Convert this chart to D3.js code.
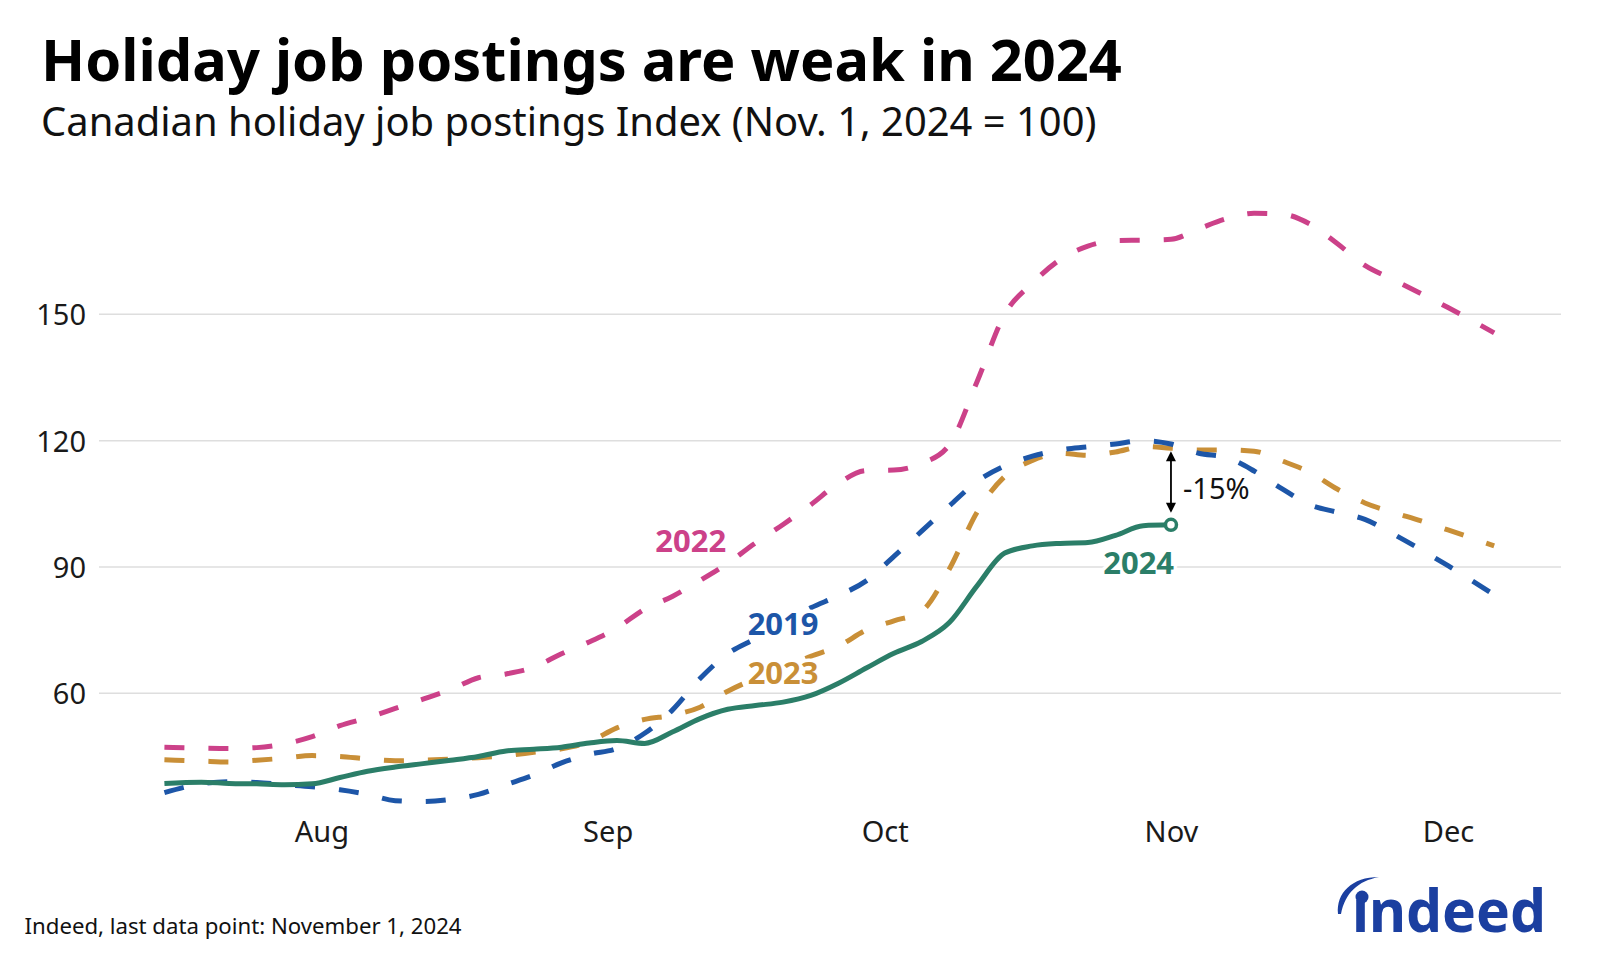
<!DOCTYPE html>
<html>
<head>
<meta charset="utf-8">
<script src="https://cdn.jsdelivr.net/npm/d3@7"></script>
<style>
  html, body { margin: 0; padding: 0; background: #fff; }
  svg { display: block; }
  text { font-family: "Noto Sans", "Open Sans", sans-serif; }
</style>
</head>
<body>
<svg id="chart" width="1600" height="960"></svg>
<script>
// ---------------- data ----------------
const dates = ["07-15","07-19","07-22","07-25","07-28","07-31","08-03","08-06","08-09","08-12",
  "08-15","08-18","08-21","08-24","08-27","08-30","09-02","09-05","09-08","09-11",
  "09-14","09-17","09-20","09-23","09-26","09-29","10-02","10-05","10-08","10-11",
  "10-14","10-17","10-20","10-23","10-26","10-29","11-01","11-04","11-07","11-10",
  "11-13","11-16","11-19","11-22","11-25","11-28","12-01","12-06"];

const values2022 = [47.2,47.0,46.9,47.1,48.0,49.7,52.3,54.2,56.4,58.6,
  60.9,63.7,64.6,66.2,69.4,72.2,75.5,80.0,83.0,86.8,
  90.9,95.7,100.1,104.8,109.9,112.9,113.0,114.6,119.0,134.0,
  150.0,157.4,163.0,166.2,167.5,167.6,167.8,170.3,172.7,174.0,
  173.8,171.5,166.8,161.6,158.3,155.0,151.6,145.6];

const values2019 = [36.4,38.5,39.0,38.8,38.3,37.8,37.1,36.0,34.5,34.3,
  34.8,36.0,38.3,40.6,43.5,45.5,46.9,50.5,56.0,63.5,
  69.4,73.0,76.8,80.3,83.2,86.7,92.5,98.5,104.5,110.3,
  114.0,116.3,117.8,118.5,119.2,120.0,119.2,117.0,116.0,112.8,
  108.6,104.8,103.0,101.3,97.9,94.2,90.3,83.4];

const values2023 = [44.2,43.9,43.7,44.1,44.6,45.2,45.0,44.4,44.0,44.1,
  44.4,44.7,45.2,46.0,46.8,48.5,51.8,53.8,54.8,56.7,
  60.5,63.5,66.0,68.8,71.2,75.0,77.2,79.5,89.5,103.0,
  111.5,115.3,117.0,116.5,117.3,118.6,118.2,117.8,117.8,117.5,
  115.2,112.5,108.5,105.2,103.0,101.0,98.8,95.0];

const values2024 = [38.6,38.9,38.6,38.5,38.3,38.5,40.0,41.5,42.5,43.3,
  44.1,45.0,46.3,46.7,47.2,48.2,48.8,48.1,50.8,54.0,
  56.2,57.1,57.9,59.5,62.4,66.0,69.5,72.3,76.8,85.5,
  93.3,95.0,95.6,95.8,97.5,99.8,100.0,
  null,null,null,null,null,null,null,null,null,null,null];

const seriesNames  = ["2022","2023","2019","2024"];
const seriesValues = [values2022, values2023, values2019, values2024];
const seriesColors = ["#cc4189","#c98f37","#1d56a8","#2b7e68"];

const yTickValues = [60, 90, 120, 150];
const xTickDates  = ["08-01","09-01","10-01","11-01","12-01"];

const titleText    = "Holiday job postings are weak in 2024";
const subtitleText = "Canadian holiday job postings Index (Nov. 1, 2024 = 100)";
const sourceText   = "Indeed, last data point: November 1, 2024";
const gapLabel     = "-15%";

// label anchors (date, value) for series annotations
const labelAnchors = [
  { name: "2022", date: "09-10 00", value: 96.2 },
  { name: "2019", date: "09-20 00", value: 76.5 },
  { name: "2023", date: "09-20 00", value: 64.8 },
  { name: "2024", date: "10-28 12", value: 91.0 }
];

// ---------------- chart ----------------
const parse = d3.timeParse("%Y-%m-%d");
const parseH = d3.timeParse("%Y-%m-%d %H");
const toDate = s => parse("2024-" + s);
const toDateH = s => parseH("2024-" + s);

const svg = d3.select("#chart");

const x = d3.scaleTime()
  .domain([toDate("08-01"), toDate("12-01")])
  .range([321.4, 1448]);
const y = d3.scaleLinear()
  .domain([60, 150])
  .range([693.3, 314.3]);

function fitText(sel, target) {
  const base = parseFloat(sel.attr("font-size"));
  const w = sel.node().getComputedTextLength();
  if (w > 0) sel.attr("font-size", (base * target / w).toFixed(2));
}

// title
const title = svg.append("text")
  .attr("x", 41).attr("y", 81)
  .attr("font-size", 56).attr("font-weight", 700).attr("fill", "#000")
  .text(titleText);
fitText(title, 1081);

const subtitle = svg.append("text")
  .attr("x", 41).attr("y", 136)
  .attr("font-size", 40).attr("fill", "#111")
  .text(subtitleText);
fitText(subtitle, 1056);

// gridlines
svg.append("g").selectAll("line")
  .data(yTickValues).join("line")
  .attr("x1", 99).attr("x2", 1561)
  .attr("y1", d => y(d)).attr("y2", d => y(d))
  .attr("stroke", "#dedede").attr("stroke-width", 1.5);

// y axis labels
const yAxis = d3.axisLeft(y).tickValues(yTickValues).tickSize(0).tickPadding(0);
const gy = svg.append("g").attr("transform", "translate(86,0)").call(yAxis);
gy.select(".domain").remove();
gy.selectAll("text")
  .attr("font-family", "'Noto Sans', sans-serif")
  .attr("font-size", 29).attr("fill", "#1a1a1a")
  .attr("dy", "0.36em");

// x axis labels
const xAxis = d3.axisBottom(x)
  .tickValues(xTickDates.map(toDate))
  .tickFormat(d3.timeFormat("%b"))
  .tickSize(0).tickPadding(0);
const gx = svg.append("g").attr("transform", "translate(0,842)").call(xAxis);
gx.select(".domain").remove();
gx.selectAll("text")
  .attr("font-family", "'Noto Sans', sans-serif")
  .attr("font-size", 29).attr("fill", "#1a1a1a")
  .attr("dy", 0);

// lines
const line = d3.line()
  .defined(d => d.v != null)
  .x(d => x(d.date))
  .y(d => y(d.v))
  .curve(d3.curveMonotoneX);

const lineG = svg.append("g");
seriesNames.forEach((name, i) => {
  const data = dates.map((s, j) => ({ date: toDate(s), v: seriesValues[i][j] }));
  lineG.append("path")
    .datum(data)
    .attr("fill", "none")
    .attr("stroke", seriesColors[i])
    .attr("stroke-width", 5)
    .attr("stroke-linejoin", "round")
    .attr("stroke-dasharray", name === "2024" ? null : "20,24")
    .attr("d", line);
});

// end point of 2024
const last24 = values2024.reduce((acc, v, j) => v != null ? j : acc, 0);
svg.append("circle")
  .attr("cx", x(toDate(dates[last24])))
  .attr("cy", y(values2024[last24]))
  .attr("r", 5.5)
  .attr("fill", "#fff")
  .attr("stroke", seriesColors[3])
  .attr("stroke-width", 3.5);

// gap arrow between 2023 and 2024 at Nov 1
const ax = x(toDate(dates[last24]));
const yTop = y(values2023[last24]) + 3;
const yBot = y(values2024[last24]) - 12;
svg.append("line")
  .attr("x1", ax).attr("x2", ax)
  .attr("y1", yTop + 6).attr("y2", yBot - 6)
  .attr("stroke", "#000").attr("stroke-width", 1.8);
svg.append("path")
  .attr("d", `M${ax},${yTop} l-5,10 l10,0 z`)
  .attr("fill", "#000");
svg.append("path")
  .attr("d", `M${ax},${yBot} l-5,-10 l10,0 z`)
  .attr("fill", "#000");
svg.append("text")
  .attr("x", ax + 12)
  .attr("y", (yTop + yBot) / 2 + 7)
  .attr("dy", "0.36em")
  .attr("font-size", 29).attr("fill", "#111")
  .text(gapLabel);

// series labels
const colorByName = {};
seriesNames.forEach((n, i) => colorByName[n] = seriesColors[i]);
svg.append("g").selectAll("text")
  .data(labelAnchors).join("text")
  .attr("x", d => x(toDateH(d.date)))
  .attr("y", d => y(d.value))
  .attr("dy", "0.36em")
  .attr("text-anchor", "middle")
  .attr("font-family", "'Liberation Sans', Arial, sans-serif")
  .attr("font-weight", 700)
  .attr("font-size", 31)
  .attr("fill", d => colorByName[d.name])
  .attr("stroke", "#fff")
  .attr("stroke-width", 7)
  .attr("stroke-linejoin", "round")
  .attr("paint-order", "stroke")
  .text(d => d.name);

// source
const source = svg.append("text")
  .attr("x", 24.5).attr("y", 934)
  .attr("font-size", 20).attr("fill", "#111")
  .text(sourceText);
fitText(source, 437);

// Indeed logo
const logoBlue = "#1b3fa0";
const logo = svg.append("g");
logo.append("text")
  .attr("x", 1352).attr("y", 932)
  .attr("font-size", 60).attr("font-weight", 700)
  .attr("fill", logoBlue)
  .attr("textLength", 194).attr("lengthAdjust", "spacingAndGlyphs")
  .text("\u0131ndeed");
logo.append("circle")
  .attr("cx", 1362).attr("cy", 897).attr("r", 6.5)
  .attr("fill", logoBlue);
logo.append("path")
  .attr("d", "M1338,914 C1336,893 1352,877 1379,877 C1358,881 1345,893 1341,914 Z")
  .attr("fill", logoBlue);
</script>
</body>
</html>
